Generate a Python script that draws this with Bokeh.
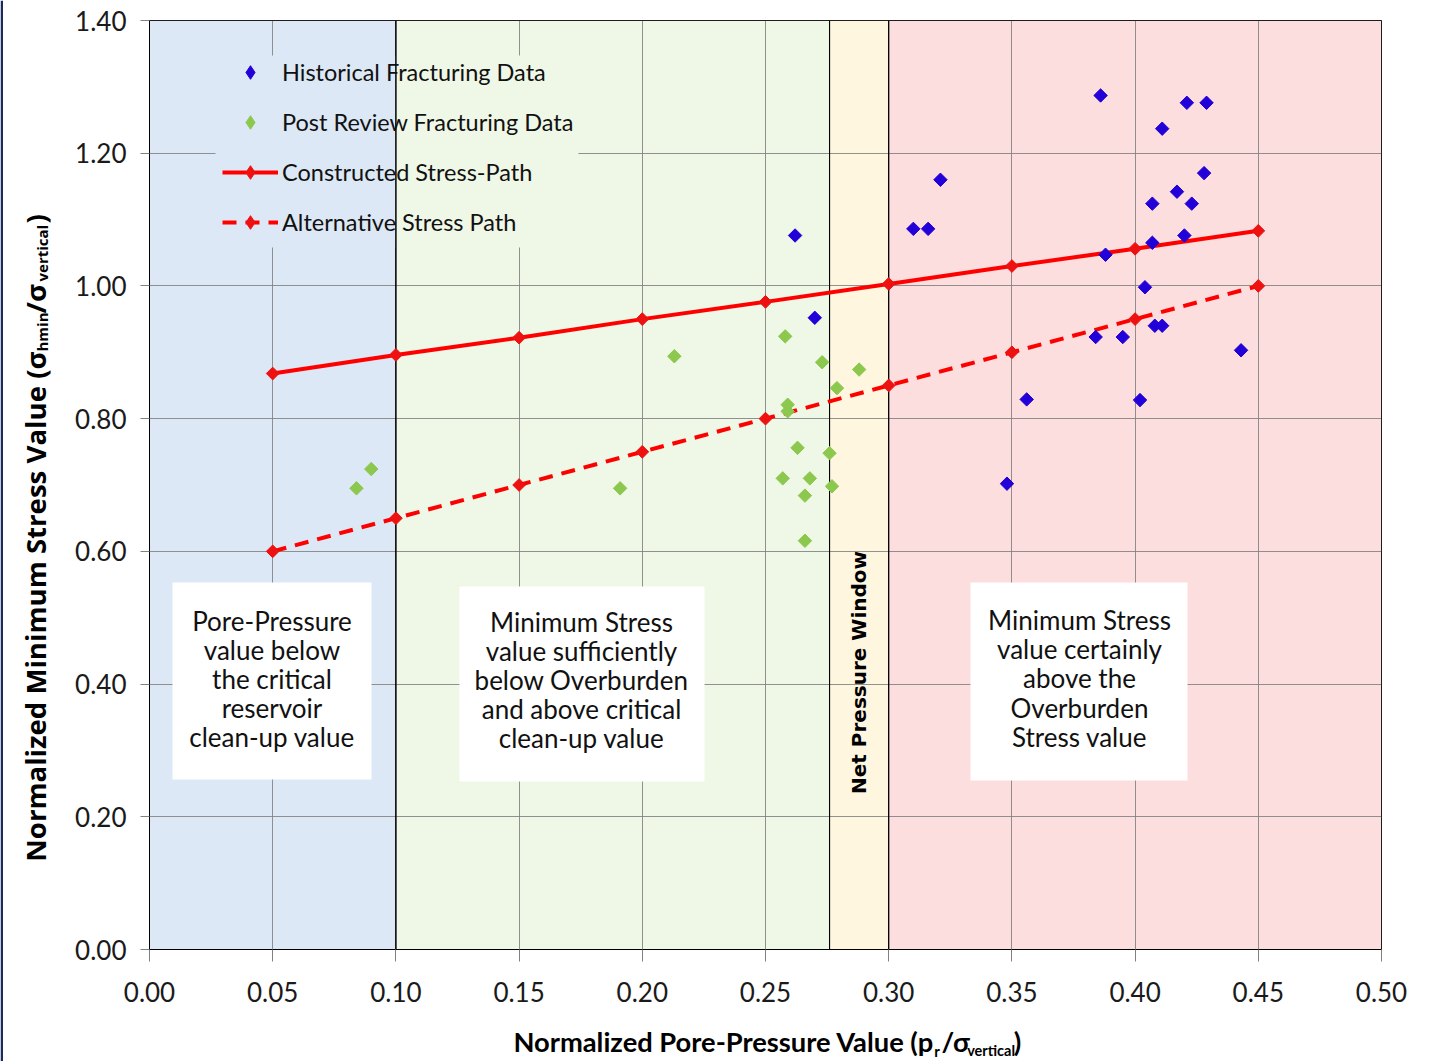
import numpy as np
from bokeh.plotting import figure
from bokeh.layouts import row, column
from bokeh.models import Range1d, FixedTicker, Legend, LegendItem, Label
from bokeh.core.properties import value
from bokeh.embed import file_html
from bokeh.resources import INLINE

# ---------------- data ----------------
x_ticks = [0.00, 0.05, 0.10, 0.15, 0.20, 0.25, 0.30, 0.35, 0.40, 0.45, 0.50]
x_tick_labels = ["0.00", "0.05", "0.10", "0.15", "0.20", "0.25", "0.30", "0.35", "0.40", "0.45", "0.50"]
y_ticks = [0.0, 0.2, 0.4, 0.6, 0.8, 1.0, 1.2, 1.4]
y_tick_labels = ["0.00", "0.20", "0.40", "0.60", "0.80", "1.00", "1.20", "1.40"]

hist_x = [0.262, 0.270, 0.310, 0.316, 0.321, 0.348, 0.356, 0.386, 0.421, 0.429, 0.411, 0.428, 0.417,
          0.407, 0.423, 0.420, 0.407, 0.388, 0.404, 0.408, 0.411, 0.384, 0.395, 0.443, 0.402]
hist_y = [1.076, 0.952, 1.086, 1.086, 1.160, 0.702, 0.829, 1.287, 1.276, 1.276, 1.237, 1.170, 1.142,
          1.124, 1.124, 1.076, 1.065, 1.047, 0.998, 0.940, 0.940, 0.923, 0.923, 0.903, 0.828]

post_x = [0.084, 0.090, 0.191, 0.213, 0.258, 0.273, 0.288, 0.279, 0.259, 0.259, 0.263, 0.276,
          0.257, 0.268, 0.277, 0.266, 0.266]
post_y = [0.695, 0.724, 0.695, 0.894, 0.924, 0.885, 0.874, 0.846, 0.821, 0.811, 0.756, 0.748,
          0.710, 0.710, 0.698, 0.684, 0.616]

path_x = [0.05, 0.10, 0.15, 0.20, 0.25, 0.30, 0.35, 0.40, 0.45]
constructed_y = [0.868, 0.896, 0.922, 0.950, 0.976, 1.003, 1.030, 1.056, 1.083]
alternative_y = [0.60, 0.65, 0.70, 0.75, 0.80, 0.85, 0.90, 0.95, 1.00]

zone_left = [0.00, 0.10, 0.276, 0.30]
zone_right = [0.10, 0.276, 0.30, 0.50]
zone_colors = ["#DCE8F5", "#EFF7E6", "#FFF6E0", "#FDDEDE"]

series_names = ["Historical Fracturing Data", "Post Review Fracturing Data",
                "Constructed Stress-Path", "Alternative Stress Path"]
zone_texts = ["Pore-Pressure\nvalue below\nthe critical\nreservoir\nclean-up value",
              "Minimum Stress\nvalue sufficiently\nbelow Overburden\nand above critical\nclean-up value",
              "Minimum Stress\nvalue certainly\nabove the\nOverburden\nStress value"]
window_text = "Net Pressure Window"

# ---------------- layout ----------------
TOTAL_H = 1061
YLAB_W = 70
MAIN_W = 1417 - YLAB_W
MAIN_H = 1010
FX0, FX1, FY0, FY1 = 149.0, 1381.0, 20.0, 949.0   # frame edges in page pixels


def px2x(px):
    return (px - FX0) / (FX1 - FX0) * 0.5


def px2y(py):
    return (FY1 - py) / (FY1 - FY0) * 1.4


p = figure(width=MAIN_W, height=MAIN_H, x_range=Range1d(0, 0.5), y_range=Range1d(0, 1.4),
           output_backend="svg", toolbar_location=None,
           min_border_left=int(FX0) - YLAB_W, min_border_right=MAIN_W - (int(FX0) - YLAB_W) - 1232,
           min_border_top=20, min_border_bottom=MAIN_H - 949,
           background_fill_color="white", border_fill_color="white")
p.outline_line_color = "black"
p.outline_line_width = 1

# zones
p.quad(left=zone_left, right=zone_right, bottom=0, top=1.4, fill_color=zone_colors,
       line_color=None, level="image")

# grid
p.xgrid.ticker = FixedTicker(ticks=x_ticks)
p.ygrid.ticker = FixedTicker(ticks=y_ticks)
for g in (p.xgrid, p.ygrid):
    g.grid_line_color = "#7f7f7f"
    g.grid_line_alpha = 0.85
    g.grid_line_width = 1

# legend backdrop hides grid lines
p.quad(left=[px2x(215), 0.10], right=[0.10, px2x(578)], bottom=px2y(247), top=px2y(55),
       fill_color=[zone_colors[0], zone_colors[1]], line_color=None)

# zone outlines
p.quad(left=zone_left, right=zone_right, bottom=0, top=1.4, fill_color=None,
       line_color="black", line_width=1)

# white text boxes
p.quad(left=[px2x(172), px2x(459), px2x(970)], right=[px2x(371), px2x(704), px2x(1187)],
       bottom=[px2y(779), px2y(781), px2y(780)], top=[px2y(582), px2y(586), px2y(582)],
       fill_color="white", line_color=None)
p.text(x=[px2x(271.5), px2x(581), px2x(1079)], y=[px2y(678.5), px2y(679.5), px2y(678)],
       text=zone_texts, text_font=value("Lato"), text_font_size="26px", text_align="center",
       text_baseline="middle", text_line_height=0.91, text_color="#111111")
p.text(x=[px2x(858)], y=[px2y(672)], text=[window_text], angle=np.pi / 2,
       text_font=value("DejaVu Sans"), text_font_style="bold", text_font_size="20px",
       text_align="center", text_baseline="middle", text_color="black")

# stress paths
RED = "#FF0000"
MRED = "#EE1111"
l1 = p.line(path_x, constructed_y, line_color=RED, line_width=4)
p.scatter(path_x, constructed_y, marker="square", angle=np.pi / 4, size=9,
          fill_color=MRED, line_color=MRED)
l2 = p.line(path_x, alternative_y, line_color=RED, line_width=4, line_dash="14 9")
p.scatter(path_x, alternative_y, marker="square", angle=np.pi / 4, size=9,
          fill_color=MRED, line_color=MRED)

# scatter data
BLUE = "#2200D8"
GREEN = "#8CC84E"
p.scatter(hist_x, hist_y, marker="square", angle=np.pi / 4, size=9.5,
          fill_color=BLUE, line_color=BLUE)
p.scatter(post_x, post_y, marker="square", angle=np.pi / 4, size=9.5,
          fill_color=GREEN, line_color=GREEN)

# hidden diamond renderers of the same data, used only for the legend symbols
lb = p.scatter(hist_x, hist_y, marker="diamond", fill_color=BLUE, line_color=BLUE, visible=False)
lg = p.scatter(post_x, post_y, marker="diamond", fill_color=GREEN, line_color=GREEN, visible=False)
lr1 = p.scatter(path_x, constructed_y, marker="diamond", fill_color=MRED, line_color=MRED, visible=False)
lr2 = p.scatter(path_x, alternative_y, marker="diamond", fill_color=MRED, line_color=MRED, visible=False)

legend = Legend(items=[LegendItem(label=series_names[0], renderers=[lb]),
                       LegendItem(label=series_names[1], renderers=[lg]),
                       LegendItem(label=series_names[2], renderers=[l1, lr1]),
                       LegendItem(label=series_names[3], renderers=[l2, lr2])],
                location=(73, 710), glyph_width=56, glyph_height=34, spacing=16,
                padding=0, margin=0, label_standoff=4, border_line_color=None,
                background_fill_alpha=0, label_text_font="Lato", label_text_font_size="23.5px",
                label_text_color="#111111", inactive_fill_alpha=0)
p.add_layout(legend)

# axes
p.xaxis.ticker = FixedTicker(ticks=x_ticks)
p.yaxis.ticker = FixedTicker(ticks=y_ticks)
p.xaxis.major_label_overrides = {t: l for t, l in zip(x_ticks, x_tick_labels)}
p.yaxis.major_label_overrides = {t: l for t, l in zip(y_ticks, y_tick_labels)}
for ax in (p.xaxis, p.yaxis):
    ax.axis_line_color = "black"
    ax.major_tick_line_color = "#808080"
    ax.minor_tick_line_color = None
    ax.major_tick_in = 0
    ax.major_label_text_font = "Lato"
    ax.major_label_text_font_size = "26px"
    ax.major_label_text_color = "#1a1a1a"
p.xaxis.major_tick_out = 12
p.xaxis.major_label_standoff = 20
p.yaxis.major_tick_out = 9
p.yaxis.major_label_standoff = 14


def blank_fig(w, h):
    f = figure(width=w, height=h, x_range=Range1d(0, w), y_range=Range1d(0, h),
               x_axis_type=None, y_axis_type=None, output_backend="svg", toolbar_location=None,
               min_border=0, background_fill_color="white", border_fill_color="white")
    f.outline_line_color = None
    f.grid.visible = False
    return f


# ---- y axis title panel (page pixels, y measured from top) ----
ylab = blank_fig(YLAB_W, TOTAL_H)
ylab.quad(left=0, right=2.5, bottom=0, top=TOTAL_H, fill_color="#1B2A5E", line_color=None)


def ypiece(txt, xp, yp, size, align="left"):
    ylab.add_layout(Label(x=xp, y=TOTAL_H - yp, text=txt, angle=np.pi / 2, text_align=align,
                          text_baseline="middle", text_font="Open Sans", text_font_size=size,
                          text_font_style="bold", text_color="black"))


ypiece("Normalized Minimum Stress Value (σ", 34, 351, "27.6px", align="right")
ypiece("hmin", 41, 351, "15px")
ypiece("/σ", 34, 313, "27.6px")
ypiece("vertical", 41, 281, "15px")
ypiece(")", 34, 223, "27.6px")

# ---- x axis title panel ----
XL_H = TOTAL_H - MAIN_H
xlab = blank_fig(MAIN_W, XL_H)


def xpiece(txt, xp, yp, size, align="left"):
    xlab.add_layout(Label(x=xp - YLAB_W, y=TOTAL_H - yp, text=txt, text_align=align,
                          text_baseline="middle", text_font="Lato", text_font_size=size,
                          text_font_style="bold", text_color="black"))


xpiece("Normalized Pore-Pressure Value (p", 928, 1041, "27.3px", align="right")
xpiece("r", 928, 1050, "15px")
xpiece("/σ", 936, 1041, "27.3px")
xpiece("vertical", 964, 1050, "14.5px")
xpiece(")", 1015, 1041, "27.3px")

layout = row(ylab, column(p, xlab, spacing=0), spacing=0)
open("out.html", "w").write(file_html(layout, INLINE))
